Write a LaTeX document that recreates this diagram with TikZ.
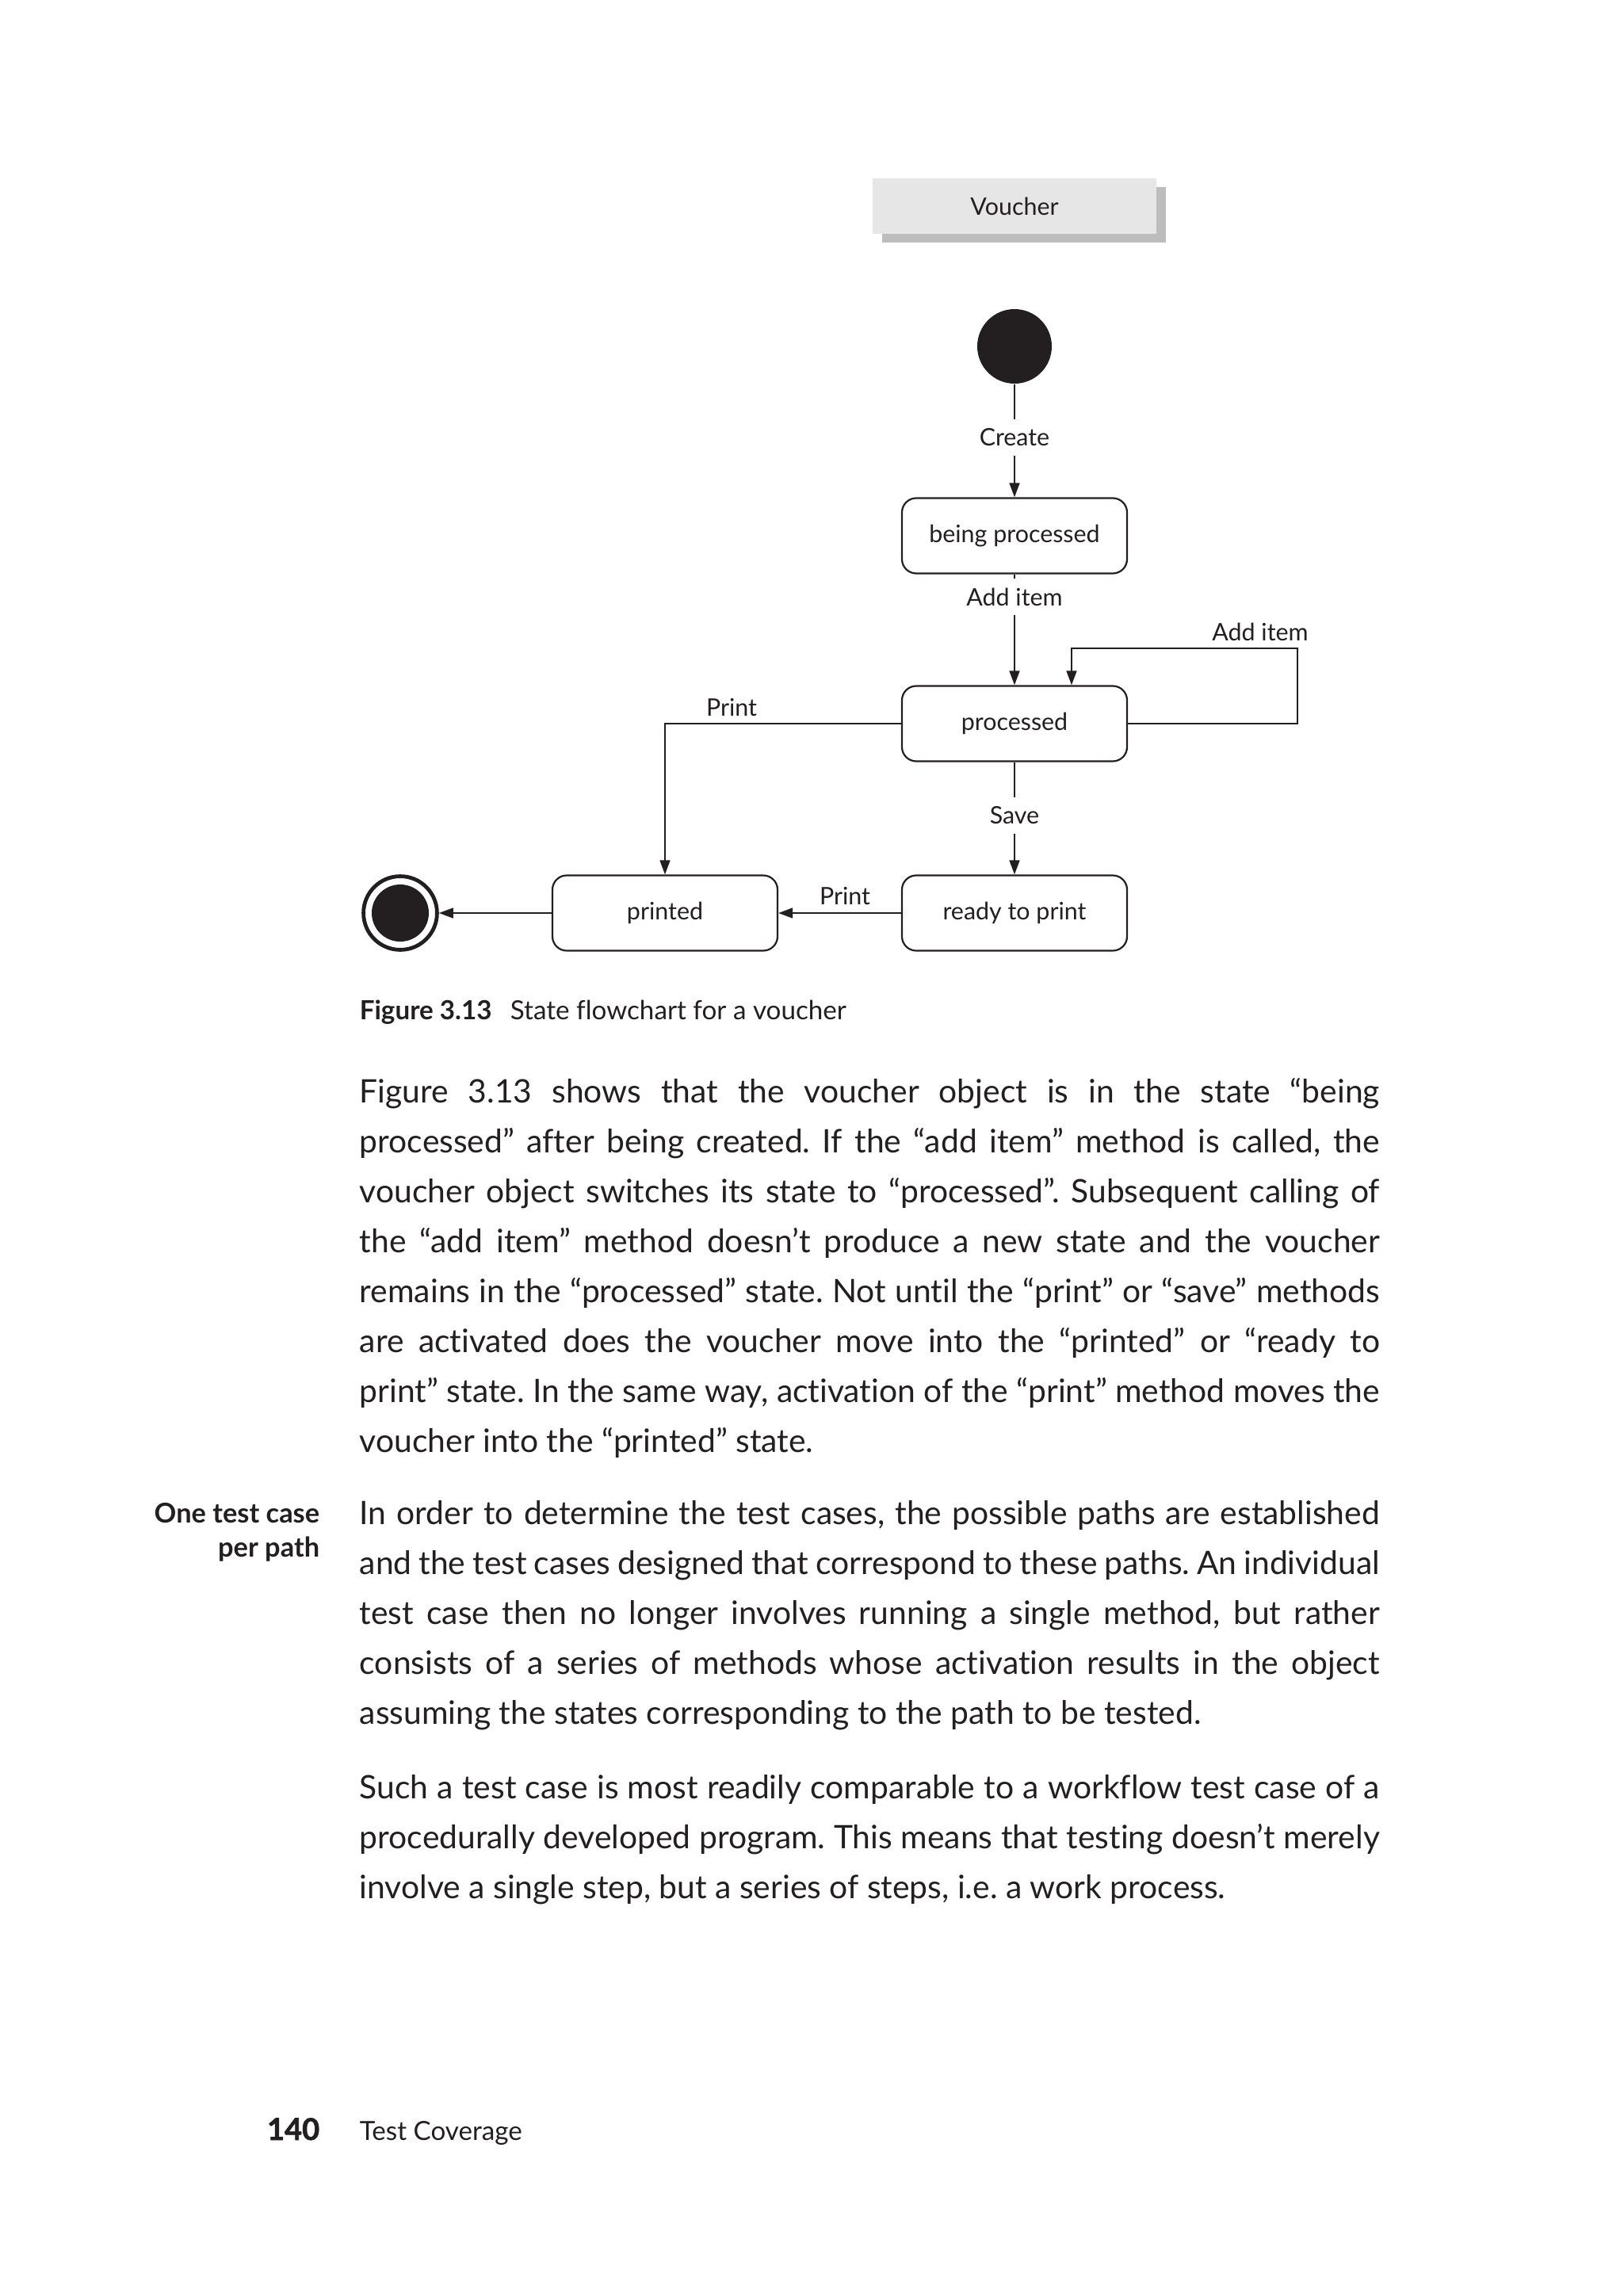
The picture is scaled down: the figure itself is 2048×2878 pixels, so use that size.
\documentclass[tikz,border=0pt]{standalone}
\usepackage{fontspec}
\setmainfont{Lato}[Ligatures={TeX,NoCommon}]
\newfontfamily\heavyfont{Lato}[BoldFeatures={FakeBold=1.5}]
\usetikzlibrary{arrows.meta}
\definecolor{ink}{RGB}{35,31,32}
\definecolor{vbg}{RGB}{230,230,230}
\definecolor{vsh}{RGB}{189,189,189}
\newcommand{\jl}[1]{\makebox[321.75pt][s]{#1}}
\frenchspacing
\begin{document}
\begin{tikzpicture}[x=0.25pt,y=-0.25pt,
  stbox/.style={draw=ink, line width=0.55pt, rounded corners=4.5pt, minimum width=71pt, minimum height=23.75pt, inner sep=0pt, font=\fontsize{7.6}{9}\selectfont, text=ink},
  lbl/.style={font=\fontsize{7.6}{9}\selectfont, text=ink, inner sep=1pt},
  gaplbl/.style={lbl, fill=white, inner xsep=1pt, inner ysep=3pt},
  tr/.style={draw=ink, line width=0.55pt, -{Triangle[length=4.5pt,width=3.2pt]}},
  body/.style={anchor=base west, inner sep=0pt, font=\fontsize{10.2}{15.75}\selectfont, text=ink},
  note/.style={anchor=base east, inner sep=0pt, font=\fontsize{8.6}{10}\selectfont\bfseries, text=ink},
  captxt/.style={anchor=base west, inner sep=0pt, font=\fontsize{8.3}{10}\selectfont, text=ink}
]
\useasboundingbox (0,0) rectangle (2048,2878);
\fill[white] (0,0) rectangle (2048,2878);

% Voucher header
\fill[vsh] (1113,236) rectangle (1471,306);
\node[fill=vbg, minimum width=89.5pt, minimum height=17.5pt, inner sep=0pt, font=\fontsize{7.6}{9}\selectfont, text=ink] (voucher) at (1280,260) {Voucher};

% states
\node[circle, fill=ink, minimum size=23.5pt, inner sep=0pt] (init) at (1280,437) {};
\node[stbox] (being) at (1280,676) {being processed};
\node[stbox] (processed) at (1280,913) {processed};
\node[stbox] (printed) at (839,1152) {printed};
\node[stbox] (ready) at (1280,1152) {ready to print};
\node[circle, draw=ink, line width=1.2pt, fill=white, minimum size=23.2pt, inner sep=0pt] (final) at (505,1152) {};
\fill[ink] (final.center) circle (9pt);

\coordinate (loopc) at (1637,818);

% transitions
\draw[tr] (init) -- (being);
\node[gaplbl] (lcreate) at (1280,552) {Create};
\draw[tr] (being) -- (processed);
\node[gaplbl] (ladd) at (1280,753) {Add item};
\draw[tr] (processed.east) -| (loopc) -| ([xshift=18pt]processed.north);
\node[lbl] (laddloop) at (1590,797) {Add item};
\draw[tr] (processed.west) -| (printed.north);
\node[lbl] (lprint1) at (923,893) {Print};
\draw[tr] (processed) -- (ready);
\node[gaplbl] (lsave) at (1280,1029) {Save};
\draw[tr] (ready) -- (printed);
\node[lbl] (lprint2) at (1066,1131) {Print};
\draw[tr] (printed) -- (final);

% caption
\node[captxt] (caption) at (453,1286) {\textbf{Figure 3.13}\hspace{0.7em}State flowchart for a voucher};

% paragraph 1
\node[body] (p1a) at (453,1391) {\jl{Figure 3.13 shows that the voucher object is in the state “being}};
\node[body] (p1b) at (453,1454) {\jl{processed” after being created. If the “add item” method is called, the}};
\node[body] (p1c) at (453,1517) {\jl{voucher object switches its state to “processed”. Subsequent calling of}};
\node[body] (p1d) at (453,1580) {\jl{the “add item” method doesn't produce a new state and the voucher}};
\node[body] (p1e) at (453,1643) {\jl{remains in the “processed” state. Not until the “print” or “save” methods}};
\node[body] (p1f) at (453,1706) {\jl{are activated does the voucher move into the “printed” or “ready to}};
\node[body] (p1g) at (453,1769) {\jl{print” state. In the same way, activation of the “print” method moves the}};
\node[body] (p1h) at (453,1832) {voucher into the “printed” state.};

% margin note
\node[note] (n1) at (404,1921) {One test case};
\node[note] (n2) at (404,1964) {per path};

% paragraph 2
\node[body] (p2a) at (453,1923) {\jl{In order to determine the test cases, the possible paths are established}};
\node[body] (p2b) at (453,1986) {\jl{and the test cases designed that correspond to these paths. An individual}};
\node[body] (p2c) at (453,2049) {\jl{test case then no longer involves running a single method, but rather}};
\node[body] (p2d) at (453,2112) {\jl{consists of a series of methods whose activation results in the object}};
\node[body] (p2e) at (453,2175) {assuming the states corresponding to the path to be tested.};

% paragraph 3
\node[body] (p3a) at (453,2269) {\jl{Such a test case is most readily comparable to a workflow test case of a}};
\node[body] (p3b) at (453,2332) {\jl{procedurally developed program. This means that testing doesn't merely}};
\node[body] (p3c) at (453,2395) {involve a single step, but a series of steps, i.e. a work process.};

% footer
\node[anchor=base east, inner sep=0pt, font=\fontsize{9.5}{11}\heavyfont\bfseries, text=ink] (pnum) at (404,2700) {140};
\node[captxt] (running) at (453,2700) {Test Coverage};
\end{tikzpicture}
\end{document}
